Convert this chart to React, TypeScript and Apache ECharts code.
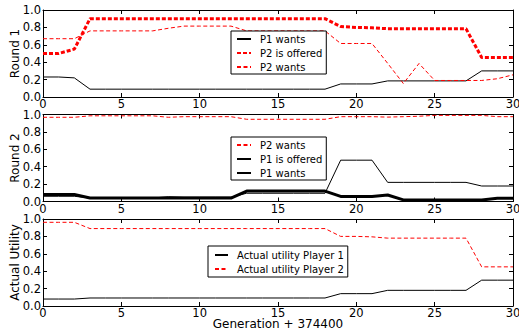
import React, { useEffect, useRef } from 'react';
import * as echarts from 'echarts';

// Generation offsets (x axis, 374400 is added in the axis title)
const generations = [0, 1, 2, 3, 4, 5, 6, 7, 8, 9, 10, 11, 12, 13, 14, 15, 16, 17, 18, 19, 20, 21, 22, 23, 24, 25, 26, 27, 28, 29, 30];

// Round 1
const round1P1Wants = [0.23, 0.23, 0.22, 0.09, 0.09, 0.09, 0.09, 0.09, 0.09, 0.09, 0.09, 0.09, 0.09, 0.09, 0.09, 0.09, 0.09, 0.09, 0.09, 0.15, 0.15, 0.15, 0.185, 0.185, 0.185, 0.185, 0.185, 0.185, 0.30, 0.30, 0.30];
const round1P2Offered = [0.5, 0.5, 0.55, 0.9, 0.9, 0.9, 0.9, 0.9, 0.9, 0.9, 0.9, 0.9, 0.9, 0.9, 0.9, 0.9, 0.9, 0.9, 0.9, 0.81, 0.8, 0.795, 0.785, 0.785, 0.785, 0.785, 0.785, 0.785, 0.455, 0.455, 0.455];
const round1P2Wants = [0.67, 0.67, 0.67, 0.76, 0.76, 0.76, 0.76, 0.76, 0.79, 0.815, 0.815, 0.815, 0.815, 0.76, 0.76, 0.76, 0.76, 0.76, 0.76, 0.615, 0.615, 0.615, 0.387, 0.155, 0.385, 0.19, 0.19, 0.19, 0.19, 0.21, 0.255];

// Round 2
const round2P2Wants = [0.968, 0.968, 0.968, 0.985, 0.985, 0.985, 0.985, 0.985, 0.968, 0.975, 0.975, 0.975, 0.975, 0.945, 0.945, 0.945, 0.945, 0.945, 0.945, 0.975, 0.975, 0.975, 0.97, 0.975, 0.98, 0.99, 0.99, 0.99, 0.99, 0.975, 0.975];
const round2P1Offered = [0.08, 0.08, 0.08, 0.04, 0.04, 0.04, 0.04, 0.04, 0.04, 0.04, 0.04, 0.04, 0.04, 0.12, 0.12, 0.12, 0.12, 0.12, 0.12, 0.058, 0.058, 0.058, 0.075, 0.018, 0.018, 0.018, 0.018, 0.018, 0.018, 0.037, 0.037];
const round2P1Wants = [0.06, 0.06, 0.06, 0.04, 0.04, 0.04, 0.04, 0.04, 0.055, 0.05, 0.05, 0.05, 0.05, 0.095, 0.095, 0.095, 0.095, 0.095, 0.095, 0.475, 0.475, 0.475, 0.22, 0.22, 0.22, 0.22, 0.22, 0.22, 0.178, 0.178, 0.178];

// Actual utility
const utilityP1 = [0.08, 0.08, 0.08, 0.092, 0.092, 0.092, 0.092, 0.092, 0.092, 0.092, 0.092, 0.092, 0.092, 0.092, 0.092, 0.092, 0.092, 0.092, 0.092, 0.142, 0.142, 0.142, 0.18, 0.18, 0.18, 0.18, 0.18, 0.18, 0.297, 0.297, 0.297];
const utilityP2 = [0.962, 0.962, 0.962, 0.89, 0.89, 0.89, 0.89, 0.89, 0.89, 0.89, 0.89, 0.89, 0.89, 0.89, 0.89, 0.89, 0.89, 0.89, 0.89, 0.8, 0.8, 0.795, 0.78, 0.78, 0.78, 0.78, 0.78, 0.78, 0.45, 0.45, 0.45];

const panelTitles = ['Round 1', 'Round 2', 'Actual Utility'];
const xTitle = 'Generation + 374400';

const RED = '#ff0000';
const BLACK = '#000000';
const FONT = 'DejaVu Sans';

const GRID_TOPS = [10, 114.5, 219];
const GRID_HEIGHT = 87;

const pairs = (ys: number[]) => ys.map((y, i) => [generations[i], y]);

const thinSolid = { color: BLACK, width: 1, type: 'solid' };
const thickSolid = { color: BLACK, width: 3, type: 'solid' };
const thinDashed = { color: RED, width: 1, type: [4, 2.5] };
const thickDotted = { color: RED, width: 3, type: [4, 2] };

function lineSeries(name: string, ys: number[], panel: number, lineStyle: any) {
  return {
    type: 'line',
    name,
    xAxisIndex: panel * 2,
    yAxisIndex: panel * 2,
    data: pairs(ys),
    symbol: 'none',
    showSymbol: false,
    lineStyle,
    itemStyle: { color: lineStyle.color },
    silent: true,
  };
}

function xAxes(panel: number) {
  const common = {
    type: 'value',
    gridIndex: panel,
    min: 0,
    max: 30,
    interval: 5,
    splitLine: { show: false },
    axisLine: { show: true, onZero: false, lineStyle: { color: BLACK, width: 1 } },
    axisTick: { show: true, inside: true, length: 4, lineStyle: { color: BLACK } },
  };
  return [
    {
      ...common,
      position: 'bottom',
      axisLabel: {
        show: true,
        margin: 2,
        fontFamily: FONT,
        fontSize: 11.5,
        lineHeight: 10,
        color: BLACK,
        showMinLabel: true,
        showMaxLabel: true,
      },
      ...(panel === 2
        ? {
            name: xTitle,
            nameLocation: 'middle',
            nameGap: 13,
            nameMoveOverlap: false,
            nameTextStyle: { fontFamily: FONT, fontSize: 12, lineHeight: 10, color: BLACK },
          }
        : {}),
    },
    { ...common, position: 'top', axisLabel: { show: false } },
  ];
}

function yAxes(panel: number) {
  const common = {
    type: 'value',
    gridIndex: panel,
    min: 0,
    max: 1,
    interval: 0.2,
    splitLine: { show: false },
    axisLine: { show: true, onZero: false, lineStyle: { color: BLACK, width: 1 } },
    axisTick: { show: true, inside: true, length: 4, lineStyle: { color: BLACK } },
  };
  return [
    {
      ...common,
      position: 'left',
      name: panelTitles[panel],
      nameLocation: 'middle',
      nameGap: 22,
      nameMoveOverlap: false,
      nameTextStyle: { fontFamily: FONT, fontSize: 12, color: BLACK },
      axisLabel: {
        show: true,
        margin: 2,
        fontFamily: FONT,
        fontSize: 11.5,
        color: BLACK,
        formatter: (v: number) => v.toFixed(1),
      },
    },
    { ...common, position: 'right', axisLabel: { show: false } },
  ];
}

function legendBox(names: string[], left: number, top: number, padding: number[], itemWidth: number) {
  return {
    orient: 'vertical',
    left,
    top,
    data: names,
    selectedMode: false,
    itemWidth,
    itemHeight: 8,
    itemGap: 2,
    padding,
    borderColor: BLACK,
    borderWidth: 1,
    borderRadius: 0,
    backgroundColor: '#ffffff',
    // line samples only, no marker in the middle
    itemStyle: { opacity: 0 },
    textStyle: { fontFamily: FONT, fontSize: 10, color: BLACK, lineHeight: 12, padding: [0, 0, 0, 4] },
  };
}

export default function App() {
  const ref = useRef<HTMLDivElement>(null);

  useEffect(() => {
    if (!ref.current) return;
    const chart = echarts.init(ref.current, null, { renderer: 'svg' });
    chart.setOption({
      animation: false,
      backgroundColor: '#ffffff',
      textStyle: { fontFamily: FONT },
      grid: GRID_TOPS.map((top) => ({
        left: 43,
        right: 6,
        top,
        height: GRID_HEIGHT,
        containLabel: false,
        outerBoundsMode: 'none',
      })),
      xAxis: [...xAxes(0), ...xAxes(1), ...xAxes(2)],
      yAxis: [...yAxes(0), ...yAxes(1), ...yAxes(2)],
      legend: [
        legendBox(['P1 wants', 'P2 is offered', 'P2 wants'], 231, 31, [2, 4, 1, 5], 14),
        legendBox(['P2 wants', 'P1 is offered', 'P1 wants'], 231, 137, [2, 4, 1, 5], 14),
        legendBox(['Actual utility Player 1', 'Actual utility Player 2'], 208, 246, [3, 4, 2, 6], 13),
      ],
      series: [
        lineSeries('P1 wants', round1P1Wants, 0, thinSolid),
        lineSeries('P2 is offered', round1P2Offered, 0, thickDotted),
        lineSeries('P2 wants', round1P2Wants, 0, thinDashed),
        lineSeries('P2 wants', round2P2Wants, 1, thinDashed),
        lineSeries('P1 is offered', round2P1Offered, 1, thickSolid),
        lineSeries('P1 wants', round2P1Wants, 1, thinSolid),
        lineSeries('Actual utility Player 1', utilityP1, 2, thinSolid),
        lineSeries('Actual utility Player 2', utilityP2, 2, thinDashed),
      ],
    });
    return () => chart.dispose();
  }, []);

  return (
    <div
      ref={ref}
      style={{ position: 'fixed', left: 0, top: 0, width: 519, height: 336, background: '#ffffff' }}
    />
  );
}
